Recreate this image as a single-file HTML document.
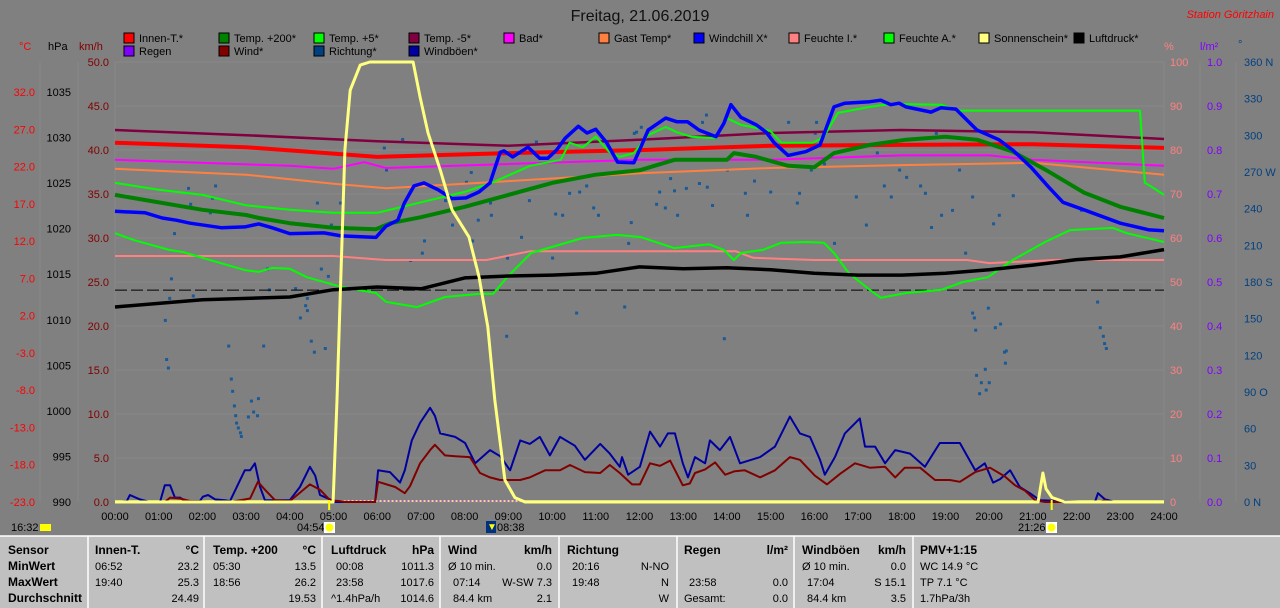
<!DOCTYPE html>
<html><head><meta charset="utf-8"><style>
html,body{margin:0;padding:0;background:#808080;}
svg{display:block;font-family:"Liberation Sans",sans-serif;}
</style></head><body>
<svg id="chart" width="1280" height="608" viewBox="0 0 1280 608" xmlns="http://www.w3.org/2000/svg">
<rect x="0" y="0" width="1280" height="608" fill="#808080"/>
<text x="640" y="21" font-size="16" text-anchor="middle" fill="#101010">Freitag, 21.06.2019</text>
<text x="1274" y="18" font-size="11" text-anchor="end" fill="#ff0000" font-style="italic">Station Göritzhain</text>
<text x="19" y="50" font-size="11" fill="#ff0000">°C</text>
<text x="48" y="50" font-size="11" fill="#000">hPa</text>
<text x="79" y="50" font-size="11" fill="#800000">km/h</text>
<text x="1164" y="50" font-size="11" fill="#ff8080">%</text>
<text x="1200" y="50" font-size="11" fill="#8000ff">l/m²</text>
<text x="1238" y="48" font-size="11" fill="#004080">°</text>
<g id="grid"></g>
<g id="axes"></g>
<g id="legend"></g>
<g id="marks"></g>
<g id="table"></g>
</svg>
<script>
// ---------- data ----------
const hourTicks = ["00:00","01:00","02:00","03:00","04:00","05:00","06:00","07:00","08:00","09:00","10:00","11:00","12:00","13:00","14:00","15:00","16:00","17:00","18:00","19:00","20:00","21:00","22:00","23:00","24:00"];
const celsiusTicks = [32,27,22,17,12,7,2,-3,-8,-13,-18,-23];
const hpaTicks = [1035,1030,1025,1020,1015,1010,1005,1000,995,990];
const kmhTicks = [50,45,40,35,30,25,20,15,10,5,0];
const percentTicks = [100,90,80,70,60,50,40,30,20,10,0];
const rainTicks = [1.0,0.9,0.8,0.7,0.6,0.5,0.4,0.3,0.2,0.1,0.0];
const degreeTicks = [360,330,300,270,240,210,180,150,120,90,60,30,0];
const degreeNames = {360:"N",270:"W",180:"S",90:"O",0:"N"};

const innenTimes = [0,3,6,9,12,15,18,21,24];
const innenValues = [25.2,24.6,23.3,23.8,24.2,24.8,24.9,25.0,24.5];
const tm5Times = [0,3,6,9,12,15,18,21,24];
const tm5Values = [26.9,26.2,25.4,24.8,25.6,26.5,26.9,26.6,25.7];
const badTimes = [0,4,5,5.7,6.2,12,15,18,20,21,24];
const badValues = [22.9,22.1,21.7,22.6,21.8,22.9,22.9,23.5,23.5,22.9,22.1];
const gastTimes = [0,3,5,6.2,8,12,15,18,21,24];
const gastValues = [21.7,20.9,19.7,19.1,19.7,21.1,21.8,22.2,22.5,20.9];
const t200Times = [0,2,3,3.3,4,5,5.97,6.3,7,8,9,10,11,12,12.8,14,14.16,14.67,15.4,16,16.45,17.27,18.1,19,19.72,20.54,21.37,22.17,23,24];
const t200Values = [18.2,16.2,15.5,15.1,14.4,13.8,13.6,14.4,15.2,16.6,18.2,19.8,20.9,21.5,22.9,22.9,23.8,23.3,22.1,21.9,23.8,24.9,25.6,26.0,25.6,24.0,21.3,18.5,16.6,15.1];
const t5Times = [0,1,2,3,4,5,6,7,8,8.65,9.5,10.2,10.4,10.7,11,11.3,11.55,11.87,12.2,12.6,12.86,13.18,13.75,14,14.32,14.99,15.24,15.97,16.22,16.54,17.27,17.75,18.9,19.31,23.45,23.56,23.66,24];
const t5Values = [19.8,18.9,18.2,16.8,16.2,15.8,15.8,17.2,18.6,19.9,22.1,22.9,25.2,24.6,26.0,24.0,23.3,23.8,26.2,27.3,26.6,26.0,25.8,28.5,27.6,26.8,25.2,25.2,26.0,29.2,30.0,30.4,30.3,29.5,29.5,19.8,19.5,18.2];
const chillTimes = [0,0.69,1.08,1.4,1.72,2.43,2.97,3.29,3.59,4,4.78,5.17,5.97,6.2,6.47,6.62,6.84,7.07,7.39,7.71,8.03,8.33,8.58,8.81,8.9,9.1,9.45,9.72,9.9,10.1,10.3,10.6,10.8,11,11.25,11.5,11.87,12.03,12.2,12.6,12.86,13.1,13.36,13.75,13.93,14.09,14.32,14.67,14.9,15.08,15.4,15.81,16.13,16.45,16.7,17.27,17.52,17.75,17.94,18.1,18.67,18.9,19.24,19.72,20.22,20.54,20.96,21.37,21.69,22.17,23,23.66,24];
const chillValues = [16.0,15.8,15.1,14.8,14.4,13.8,13.9,14.3,13.8,13.0,13.1,12.7,12.5,14.0,14.8,17.1,19.4,19.8,18.9,17.7,17.8,18.6,19.8,23.9,24.1,23.3,24.6,23.1,23.1,24.2,25.8,27.4,26.5,27.0,25.2,22.6,22.5,24.6,26.9,28.5,28.0,28.0,26.9,26.0,27.8,30.3,28.6,27.6,26.6,25.2,23.5,24.0,24.9,30.0,30.5,30.7,30.9,30.3,30.5,30.0,29.3,29.9,29.7,26.9,25.6,24.2,21.9,19.2,17.2,16.2,14.4,13.5,13.4];
const feuchteATimes = [0,0.44,1.24,1.56,2,2.97,3.29,3.59,4,4.39,5.17,5.97,6.2,6.91,7.55,8.33,8.65,8.97,9.52,10.7,11.48,12.03,12.79,13.59,13.93,14.16,14.32,14.82,15.24,15.81,16.22,16.45,16.79,17.27,17.52,18.1,18.9,19.4,19.97,20.54,21.28,21.85,22.83,23.15,24];
const feuchteAValues = [61.1,59.5,57.3,56.8,55.5,52.7,52.3,53.2,53.0,51.1,48.9,47.5,45.5,44.3,46.6,47.3,47.3,51.1,56.6,60.0,60.7,60.2,57.7,58.6,57.3,55.0,56.6,57.3,58.9,59.1,58.9,56.6,52.0,48.2,46.4,47.5,48.2,50.0,51.1,55.0,59.1,61.8,62.3,61.1,59.1];
const feuchteITimes = [0,5,6.2,8.5,9.5,12,14.2,14.6,16,19.5,20,21.5,24];
const feuchteIValues = [55.9,55.9,55.0,55.0,57.0,57.0,57.0,55.5,55.0,55.0,54.3,55.0,55.0];
const pressTimes = [0,2,4,5,6,7,8,9,10,11,12,13,14,15,16,17,18,19,20,21,22,23,24];
const pressValues = [1011.4,1012.2,1012.5,1013.3,1013.6,1013.4,1014.6,1014.8,1014.9,1015.1,1015.8,1015.6,1015.7,1015.5,1015.1,1014.9,1014.9,1015.1,1015.5,1016.0,1016.6,1016.9,1017.7];
const pressRef = 1013.25;
const sunTimes = [0,4.9,4.99,5.08,5.15,5.26,5.38,5.61,5.83,6.82,6.98,7.16,7.44,7.71,8.1,8.33,8.53,8.69,8.92,9.15,9.38,21.12,21.23,21.3,21.44,21.73,24];
const sunValues = [0,0,0,23.2,45.9,80,93.6,99.3,100,100,92,83.9,75.5,66.4,60.2,51.1,39.8,23.2,5,1,0,0,6.6,3,1,0,0];
const windTimes = [0,1.14,1.26,1.49,1.72,2.63,3.09,3.27,3.43,3.66,4.0,4.46,4.69,4.92,5.15,5.26,5.95,6.02,6.41,6.63,6.75,6.98,7.21,7.32,7.55,7.78,8.12,8.35,8.58,8.81,9.27,9.49,9.84,10.18,10.41,10.75,11.1,11.32,11.55,11.83,12.01,12.24,12.47,12.7,12.99,13.15,13.27,13.5,13.73,13.96,14.18,14.41,14.76,15.1,15.44,15.67,16.01,16.29,16.59,16.93,17.27,17.62,17.85,18.07,18.42,18.76,19.1,19.33,19.68,20.02,20.36,20.59,20.82,21.05,21.28,22.53,22.65,22.76,24];
const windValues = [0,0,0.5,0.4,0.1,0,0.4,2.3,1.4,0.2,0.1,2.0,1.4,0.2,0.1,0,0,2.3,1.7,1.0,1.8,4.4,5.9,6.5,5.3,5.2,5.1,3.3,2.8,2.5,2.5,2.8,3.6,3.6,4.2,3.4,3.3,4.2,3.3,2.0,2.0,4.4,4.1,4.7,1.9,2.1,3.3,3.7,4.5,3.1,3.5,3.6,2.8,3.6,5.1,4.8,3.0,2.0,3.2,4.4,3.9,4.0,2.8,3.9,3.9,2.5,2.5,2.3,3.4,3.9,2.9,1.9,1.3,0.2,0,0,0.2,0,0];
const gustTimes = [0,0.27,0.34,0.57,0.8,1.03,1.14,1.26,1.37,1.49,1.6,1.94,2.01,2.13,2.29,2.52,2.63,2.97,3.09,3.2,3.32,3.43,4.0,4.23,4.46,4.58,4.69,4.92,5.03,5.95,6.02,6.29,6.52,6.63,6.79,6.98,7.21,7.32,7.44,7.78,8.01,8.24,8.58,8.81,9.04,9.27,9.49,9.72,9.95,10.18,10.52,10.75,11.1,11.32,11.55,11.6,11.74,12.01,12.24,12.47,12.65,12.81,12.99,13.11,13.27,13.5,13.61,13.84,14.07,14.3,14.76,15.1,15.44,15.67,15.9,16.13,16.24,16.47,16.7,17.04,17.16,17.39,17.62,17.85,18.19,18.53,18.87,19.33,19.68,19.9,20.09,20.25,20.48,20.7,20.93,21.16,22.42,22.49,22.65,22.88,24];
const gustValues = [0,0.1,0.8,0.3,0,0,1.9,1.9,0.5,0.5,0.1,0.1,0.6,0.8,0.3,0.2,0.1,3.6,3.6,4.4,1.7,0.2,0.2,1.7,4.0,3.0,0.8,0.3,0,0,3.6,3.4,2.2,3.6,7.0,9.0,10.7,9.8,7.8,7.4,6.7,4.4,5.9,5.2,3.6,7.0,6.6,7.4,5.3,7.4,6.4,4.8,6.6,5.5,4.0,5.1,3.1,4.0,8.0,6.3,7.8,7.8,4.4,2.8,5.1,4.4,7.0,5.9,7.4,4.4,5.1,6.3,9.7,7.8,7.4,4.8,3.1,5.1,7.8,9.5,6.3,6.3,4.4,5.9,5.5,4.0,6.7,6.7,3.6,4.4,2.2,2.6,3.6,1.7,1.0,0.2,0,1.0,0.3,0,0];
const dirTimes = [1.67,2.29,2.22,1.72,1.35,2.17,1.28,1.24,1.14,1.78,3.52,3.48,4.12,4.39,4.35,4.23,4.39,4.62,5.15,4.94,4.71,4.87,6.15,6.2,6.57,7.07,7.02,6.75,7.55,7.71,8.03,8.14,8.17,8.26,8.58,8.6,8.3,8.97,9.63,9.29,9.47,10.0,10.07,10.39,10.62,10.78,10.94,11.05,11.8,11.65,11.92,11.74,10.55,10.23,1.17,1.21,2.59,3.39,2.65,2.68,2.72,2.75,2.77,2.81,2.86,2.88,3.11,3.27,3.16,3.25,3.04,4.48,4.55,4.8,8.95,11.87,12.03,12.38,12.58,12.7,12.79,12.45,12.86,13.06,13.43,13.52,13.54,13.66,13.36,14.0,14.41,14.46,14.62,14.99,15.4,15.6,15.65,16.04,16.01,15.92,16.22,16.45,16.95,17.18,17.43,17.59,17.75,17.94,18.1,18.42,18.53,18.67,18.78,18.9,19.15,19.31,19.45,19.61,20.09,20.22,20.54,19.61,19.65,19.97,20.13,20.25,22.47,22.53,22.1,13.93,19.68,19.7,19.77,19.81,19.9,19.92,19.99,20.34,20.38,20.36,22.6,22.63,22.67];
const dirValues = [257,259,249,244,220,237,183,167,149,169,174,191,175,167,161,151,157,245,245,227,191,185,290,272,297,214,204,198,247,227,262,270,214,192,245,235,231,200,295,217,247,200,236,253,254,259,241,235,229,160,303,212,155,235,117,110,128,128,101,91,79,71,65,61,57,54,83,85,74,71,70,132,123,126,136,302,307,244,241,265,255,254,235,257,311,317,258,243,261,272,253,235,263,254,311,245,253,311,302,272,277,212,250,227,286,259,250,272,266,259,253,225,302,235,239,272,204,250,228,235,251,155,151,159,143,146,164,143,239,134,141,104,89,98,109,92,98,123,124,114,136,130,126];

const legendRow1 = ["Innen-T.*","Temp. +200*","Temp. +5*","Temp. -5*","Bad*","Gast Temp*","Windchill X*","Feuchte I.*","Feuchte A.*","Sonnenschein*","Luftdruck*"];
const legendRow1Colors = ["#ff0000","#008000","#00ff00","#800040","#ff00ff","#ff8040","#0000ff","#ff8080","#00ff00","#ffff80","#000000"];
const legendRow2 = ["Regen","Wind*","Richtung*","Windböen*"];
const legendRow2Colors = ["#8000ff","#800000","#004080","#0000a0"];

// ---------- scales ----------
const NS = "http://www.w3.org/2000/svg";
const X0 = 115, X1 = 1164, YT = 62, YB = 502;
function xOf(h){ return X0 + h*(X1-X0)/24; }
function yC(t){ return YB - (t+23)*410/55; }
function yP(p){ return YB - (p-990)*410/45; }
function yW(w){ return YB - w*(YB-YT)/50; }
function yH(v){ return YB - v*(YB-YT)/100; }
function yD(d){ return YB - d*(YB-YT)/360; }
function yR(r){ return YB - r*(YB-YT); }

function mk(tag, attrs, parent, txt){
  const e = document.createElementNS(NS, tag);
  for (const k in attrs) e.setAttribute(k, attrs[k]);
  if (txt !== undefined) e.textContent = txt;
  parent.appendChild(e);
  return e;
}
const grid = document.getElementById('grid');
const axes = document.getElementById('axes');
const legend = document.getElementById('legend');
const marks = document.getElementById('marks');
const table = document.getElementById('table');

// grid
kmhTicks.forEach(v=>{
  const l = mk('line',{x1:X0,x2:X1,y1:yW(v),y2:yW(v),stroke:'#878787','stroke-width':1},grid);
  
  
});
[40,78,X0,X1,1200,1236].forEach(x=>{
  const l = mk('line',{x1:x,x2:x,y1:YT,y2:YB,stroke:'#878787','stroke-width':1},grid);
  
  
});

// left axes
celsiusTicks.forEach(v=>{
  const t = mk('text',{x:35,y:yC(v)+4,'font-size':11,'text-anchor':'end',fill:'#ff0000'},axes,v.toFixed(1));
  
  
});
hpaTicks.forEach(v=>{
  const t = mk('text',{x:71,y:yP(v)+4,'font-size':11,'text-anchor':'end',fill:'#000'},axes,String(v));
  
  
});
kmhTicks.forEach(v=>{
  const t = mk('text',{x:109,y:yW(v)+4,'font-size':11,'text-anchor':'end',fill:'#800000'},axes,v.toFixed(1));
  
  
});
// right axes
percentTicks.forEach(v=>{
  const t = mk('text',{x:1170,y:yH(v)+4,'font-size':11,fill:'#ff8080'},axes,String(v));
  
  
});
rainTicks.forEach(v=>{
  const t = mk('text',{x:1207,y:yR(v)+4,'font-size':11,fill:'#8000ff'},axes,v.toFixed(1));
  
  
});
degreeTicks.forEach(v=>{
  const lab = v + (degreeNames[v] ? (v===90?"  ":" ") + degreeNames[v] : "");
  const t = mk('text',{x:1244,y:yD(v)+4,'font-size':11,fill:'#004080','xml:space':'preserve'},axes,lab);
  
  
});
// x axis
hourTicks.forEach((s,i)=>{
  const t = mk('text',{x:xOf(i),y:520,'font-size':11,'text-anchor':'middle',fill:'#000'},axes,s);
  
  
});

// legend
function legendItem(label,color,x,y){
  const r = mk('rect',{x:x,y:y,width:10,height:10,fill:color,stroke:'#000','stroke-width':1},legend);
  
  
  const t = mk('text',{x:x+15,y:y+9,'font-size':11,fill:'#000'},legend,label);
  
  
}
legendRow1.forEach((s,i)=>legendItem(s,legendRow1Colors[i],124+i*95,33));
legendRow2.forEach((s,i)=>legendItem(s,legendRow2Colors[i],124+i*95,46));

// series
function series(times, vals, yfn, color, w, name){
  const pts = times.map((h,i)=>xOf(h).toFixed(1)+','+yfn(vals[i]).toFixed(1)).join(' ');
  const p = mk('polyline',{points:pts,fill:'none',stroke:color,'stroke-width':w,'stroke-linejoin':'round'},marks);
  
  
}
// baseline yellow
const bl = mk('line',{x1:X0,x2:X1,y1:501,y2:501,stroke:'#ffff80','stroke-width':1.5},marks);


const rl = mk('line',{x1:xOf(5.0),x2:xOf(21.3),y1:501,y2:501,stroke:'#8000ff','stroke-width':1,'stroke-dasharray':'2,2'},marks);



// direction dots
dirTimes.forEach((h,i)=>{
  const r = mk('rect',{x:xOf(h)-1,y:yD(dirValues[i])-1,width:3,height:3,fill:'#1a5a96'},marks);
  
  
});
const ref = mk('line',{x1:X0,x2:X1,y1:yP(pressRef),y2:yP(pressRef),stroke:'#000','stroke-width':1,'stroke-dasharray':'12,4'},marks);



series(gustTimes,gustValues,yW,'#0000a0',2,'windboeen-line');
series(windTimes,windValues,yW,'#800000',2,'wind-line');
series(feuchteITimes,feuchteIValues,yH,'#ff8080',2,'feuchte-innen-line');
series(feuchteATimes,feuchteAValues,yH,'#00ff00',2,'feuchte-aussen-line');
series(pressTimes,pressValues,yP,'#000000',3.5,'luftdruck-line');
series(gastTimes,gastValues,yC,'#ff8040',2,'gast-temp-line');
series(badTimes,badValues,yC,'#ff00ff',2,'bad-temp-line');
series(tm5Times,tm5Values,yC,'#800040',2.5,'temp-minus5-line');
series(innenTimes,innenValues,yC,'#ff0000',4,'innen-temp-line');
series(t200Times,t200Values,yC,'#008000',4,'temp-200-line');
series(t5Times,t5Values,yC,'#00ff00',2,'temp-plus5-line');
series(chillTimes,chillValues,yC,'#0000ff',3.5,'windchill-line');
series(sunTimes,sunValues,yH,'#ffff80',3,'sunshine-line');

// sunrise/sunset markers
function marker(h,label,lx,iconX,name){
  const l = mk('line',{x1:xOf(h),x2:xOf(h),y1:500,y2:510,stroke:'#ffff00','stroke-width':2},marks);
  
  
  const t = mk('text',{x:lx,y:531,'font-size':11,fill:'#000'},axes,label);
  
  
  const b = mk('rect',{x:iconX,y:522,width:11,height:11,fill:'#ffffff'},axes);
  
  
  const c = mk('circle',{cx:iconX+5.5,cy:527.5,r:4,fill:'#ffff00'},axes);
  
  
}
marker(4.9,'04:54',297,324,'sunrise');
marker(21.43,'21:26',1018,1046,'sunset');
const dl = mk('text',{x:11,y:531,'font-size':11,fill:'#000'},axes,'16:32');


const dli = mk('rect',{x:40,y:524,width:11,height:7,fill:'#ffff00'},axes);


const mi = mk('rect',{x:486,y:521,width:10,height:12,fill:'#003080'},axes);


const mit = mk('text',{x:487,y:530,'font-size':10,fill:'#ffff00'},axes,'▼');


const ml = mk('text',{x:497,y:531,'font-size':11,fill:'#000'},axes,'08:38');



// table
const tb = mk('rect',{x:0,y:536,width:1280,height:72,fill:'#c0c0c0'},table);


const tl = mk('line',{x1:0,x2:1280,y1:536,y2:536,stroke:'#ffffff','stroke-width':1.5},table);


[88,204,322,440,559,677,794,913].forEach(x=>{
  const l = mk('line',{x1:x,x2:x,y1:536,y2:608,stroke:'#ffffff','stroke-width':1.5},table);
  
  
});
const rowsY = [554,570,586,602];
function cell(x,row,txt,bold,anchor){
  const t = mk('text',{x:x,y:rowsY[row],'font-size':bold?12:11,'font-weight':bold?'bold':'normal','text-anchor':anchor||'start',fill:'#000'},table,txt);
  
  
}
cell(8,0,'Sensor',true);cell(8,1,'MinWert',true);cell(8,2,'MaxWert',true);cell(8,3,'Durchschnitt',true);
const cols = [
 [95,199,'Innen-T.','°C',[['06:52','23.2'],['19:40','25.3'],['','24.49']]],
 [213,316,'Temp. +200','°C',[['05:30','13.5'],['18:56','26.2'],['','19.53']]],
 [331,434,'Luftdruck','hPa',[[' 00:08','1011.3'],[' 23:58','1017.6'],['^1.4hPa/h','1014.6']]],
 [448,552,'Wind','km/h',[['Ø 10 min.','0.0'],[' 07:14','W-SW 7.3'],[' 84.4 km','2.1']]],
 [567,669,'Richtung','',[[' 20:16','N-NO'],[' 19:48','N'],['','W']]],
 [684,788,'Regen','l/m²',[['',''],[' 23:58','0.0'],['Gesamt:','0.0']]],
 [802,906,'Windböen','km/h',[['Ø 10 min.','0.0'],[' 17:04','S 15.1'],[' 84.4 km','3.5']]]
];
cols.forEach(c=>{
  cell(c[0],0,c[2],true); if(c[3]) cell(c[1],0,c[3],true,'end');
  c[4].forEach((r,i)=>{ if(r[0]) cell(c[0]+(r[0].startsWith(' ')?5:0),i+1,r[0].trim(),false); if(r[1]) cell(c[1],i+1,r[1],false,'end'); });
});
cell(920,0,'PMV+1:15',true);cell(920,1,'WC 14.9 °C',false);cell(920,2,'TP 7.1 °C',false);cell(920,3,'1.7hPa/3h',false);
</script>
</body></html>
